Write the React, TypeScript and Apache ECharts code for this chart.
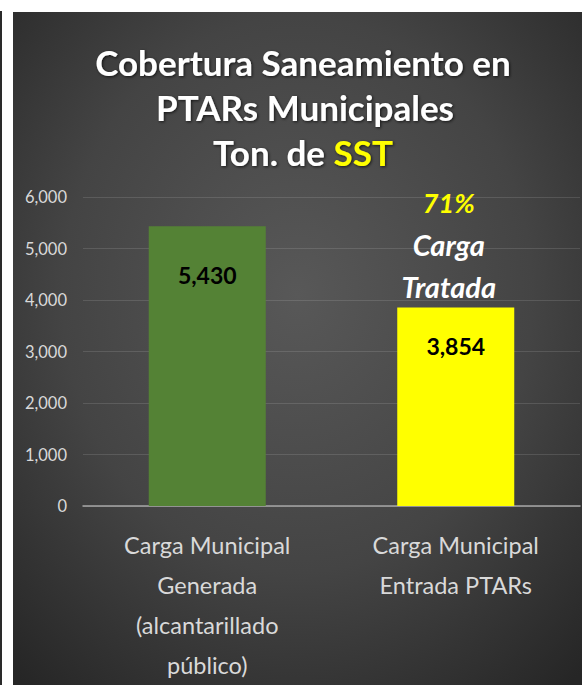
import React, { useEffect, useRef } from "react";
import * as echarts from "echarts";

const categories = [
  "Carga Municipal\nGenerada\n(alcantarillado\npúblico)",
  "Carga Municipal\nEntrada PTARs",
];
const values = [5430, 3854];
const barColors = ["#548235", "#ffff00"];
const labelDistances = [37, 27];
const yTicks = { min: 0, max: 6000, interval: 1000 };
const titleLines = ["Cobertura Saneamiento en", "PTARs Municipales"];
const titleLine3 = ["Ton. de ", "SST"];
const annotation = { pct: "71%", l1: "Carga", l2: "Tratada" };

const FONT = "Lato, 'Open Sans', sans-serif";

export default function App() {
  const ref = useRef<HTMLDivElement>(null);
  useEffect(() => {
    if (!ref.current) return;
    const chart = echarts.init(ref.current, null, { renderer: "svg" });
    const shadow = {
      textShadowColor: "rgba(0,0,0,0.7)",
      textShadowBlur: 3,
      textShadowOffsetX: 1,
      textShadowOffsetY: 1,
    };
    chart.setOption({
      animation: false,
      backgroundColor: "#ffffff",
      graphic: [
        {
          type: "rect",
          z: -10,
          silent: true,
          shape: { x: 0, y: 11, width: 2, height: 674 },
          style: { fill: "#2a2a2a" },
        },
        {
          type: "rect",
          z: -10,
          silent: true,
          shape: { x: 13, y: 12, width: 569, height: 673 },
          style: {
            fill: new echarts.graphic.RadialGradient(0.5, 0.42, 0.75, [
              { offset: 0, color: "#585858" },
              { offset: 0.55, color: "#444444" },
              { offset: 1, color: "#262626" },
            ]),
          },
        },
        {
          type: "text",
          z: 10,
          style: {
            text: titleLines[0],
            x: 303,
            y: 62,
            align: "center",
            verticalAlign: "middle",
            fill: "#ffffff",
            font: `bold 35px ${FONT}`,
            ...shadow,
          },
        },
        {
          type: "text",
          z: 10,
          style: {
            text: titleLines[1],
            x: 305,
            y: 107,
            align: "center",
            verticalAlign: "middle",
            fill: "#ffffff",
            font: `bold 35px ${FONT}`,
            ...shadow,
          },
        },
        {
          type: "text",
          z: 10,
          style: {
            text: `{w|${titleLine3[0]}}{y|${titleLine3[1]}}`,
            x: 303,
            y: 152,
            align: "center",
            verticalAlign: "middle",
            rich: {
              w: { fill: "#ffffff", font: `bold 35px ${FONT}`, ...shadow },
              y: { fill: "#ffff00", font: `bold 35px ${FONT}`, ...shadow },
            },
          },
        },
      ],
      grid: { left: 83, right: 2, top: 197, bottom: 177, containLabel: false },
      xAxis: {
        type: "category",
        data: categories,
        axisTick: { show: false },
        axisLine: { lineStyle: { color: "#a6a6a6", width: 1.5 } },
        axisLabel: {
          interval: 0,
          color: "#d9d9d9",
          fontFamily: FONT,
          fontSize: 23.5,
          lineHeight: 40,
          margin: 19,
        },
      },
      yAxis: {
        type: "value",
        min: yTicks.min,
        max: yTicks.max,
        interval: yTicks.interval,
        axisLine: { show: false },
        axisTick: { show: false },
        splitLine: { lineStyle: { color: "rgba(255,255,255,0.12)", width: 1 } },
        axisLabel: {
          color: "#d9d9d9",
          fontFamily: FONT,
          fontSize: 16.5,
          margin: 16,
          formatter: (v: number) => v.toLocaleString("en-US"),
        },
      },
      series: [
        {
          type: "bar",
          barWidth: 117,
          data: values.map((v, i) => ({
            value: v,
            itemStyle: { color: barColors[i] },
            label: { distance: labelDistances[i] },
          })),
          label: {
            show: true,
            position: "insideTop",
            color: "#000000",
            fontFamily: FONT,
            fontWeight: "bold",
            fontSize: 23,
            formatter: (p: any) => Number(p.value).toLocaleString("en-US"),
          },
          markPoint: {
            symbol: "circle",
            symbolSize: 0,
            silent: true,
            data: [{ coord: [1, values[1]] }],
            label: {
              show: true,
              position: "top",
              distance: 0,
              offset: [-7, 0],
              formatter: `{p|${annotation.pct}}\n{c|${annotation.l1}}\n{c|${annotation.l2}}`,
              rich: {
                p: {
                  color: "#ffff00",
                  fontFamily: FONT,
                  fontWeight: "bold",
                  fontStyle: "italic",
                  fontSize: 27,
                  lineHeight: 42,
                  align: "center",
                },
                c: {
                  color: "#ffffff",
                  fontFamily: FONT,
                  fontWeight: "bold",
                  fontStyle: "italic",
                  fontSize: 29,
                  lineHeight: 42,
                  align: "center",
                },
              },
            },
          },
        },
      ],
    });
    return () => chart.dispose();
  }, []);
  return (
    <div
      ref={ref}
      style={{ position: "fixed", left: 0, top: 0, width: 582, height: 685 }}
    />
  );
}
